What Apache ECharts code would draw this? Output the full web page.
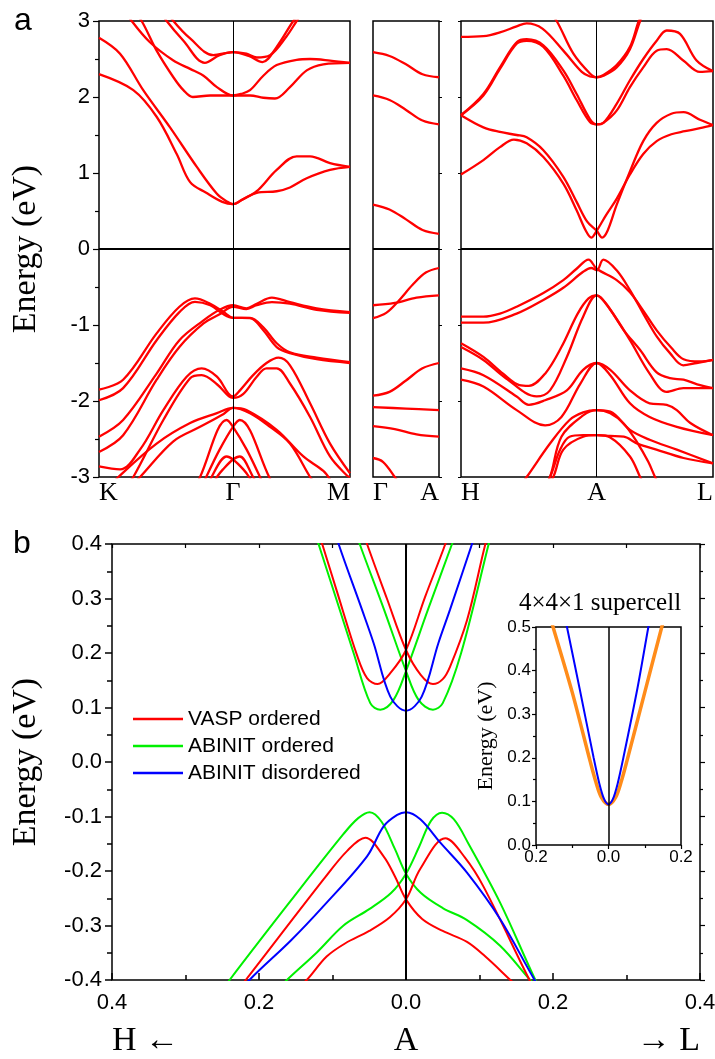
<!DOCTYPE html>
<html>
<head>
<meta charset="utf-8">
<script src="https://cdn.jsdelivr.net/npm/echarts@6/dist/echarts.min.js"></script>
<style>
html,body{margin:0;padding:0;background:#fff;}
#chart{width:715px;height:1059px;}
</style>
</head>
<body>
<div id="chart"></div>
<script>
// ---------- Panel a : K-Γ-M (k: K=0, Γ=1, M=1.873) ----------
const kgmTicks = [0, 1, 1.873];
const kgmNames = ['K', 'Γ', 'M'];
const kgm_c1a = [[0,2.30],[0.256,2.09],[0.43,1.74],[0.58,1.25],[0.68,0.88],[0.80,0.74],[0.92,0.62],[1,0.59],[1.08,0.66],[1.177,0.74],[1.326,0.76],[1.425,0.81],[1.55,0.93],[1.724,1.04],[1.873,1.08]];
const kgm_c1b = [[0,2.78],[0.157,2.57],[0.33,2.09],[0.53,1.60],[0.73,1.08],[0.878,0.73],[0.95,0.63],[1,0.59],[1.06,0.64],[1.177,0.76],[1.326,1.04],[1.475,1.22],[1.575,1.22],[1.724,1.13],[1.873,1.08]];
const kgm_c2a = [[0.23,3.2],[0.318,3.0],[0.43,2.61],[0.555,2.26],[0.63,2.09],[0.70,2.00],[0.83,2.02],[1,2.02],[1.127,2.02],[1.226,1.99],[1.313,1.98],[1.425,2.13],[1.55,2.35],[1.674,2.43],[1.873,2.45]];
const kgm_c2b = [[0.17,3.2],[0.244,3.0],[0.38,2.72],[0.555,2.48],[0.68,2.37],[0.78,2.28],[0.88,2.13],[1,2.02],[1.06,2.04],[1.127,2.09],[1.226,2.28],[1.326,2.42],[1.475,2.49],[1.575,2.50],[1.724,2.48],[1.873,2.45]];
const kgm_c3a = [[0.45,3.15],[0.505,3.0],[0.63,2.74],[0.79,2.45],[0.90,2.55],[1,2.59],[1.117,2.54],[1.22,2.46],[1.326,2.66],[1.45,3.0],[1.52,3.15]];
const kgm_c3b = [[0.50,3.15],[0.555,3.0],[0.68,2.77],[0.853,2.55],[1,2.59],[1.1,2.57],[1.177,2.52],[1.276,2.55],[1.40,2.8],[1.475,3.0],[1.53,3.15]];
const kgm_v1 = [[0,-1.85],[0.18,-1.72],[0.43,-1.11],[0.60,-0.76],[0.716,-0.65],[0.83,-0.72],[0.93,-0.83],[1,-0.905],[1.127,-0.91],[1.226,-1.07],[1.326,-1.29],[1.425,-1.37],[1.624,-1.45],[1.873,-1.50]];
const kgm_v2 = [[0,-1.99],[0.18,-1.83],[0.43,-1.20],[0.60,-0.83],[0.716,-0.695],[0.83,-0.74],[0.93,-0.86],[1,-0.905],[1.127,-0.905],[1.226,-1.03],[1.326,-1.24],[1.425,-1.36],[1.624,-1.43],[1.873,-1.49]];
const kgm_v3 = [[0,-2.47],[0.18,-2.25],[0.43,-1.64],[0.60,-1.20],[0.78,-0.94],[0.90,-0.80],[1,-0.74],[1.1,-0.78],[1.177,-0.72],[1.29,-0.64],[1.425,-0.70],[1.624,-0.78],[1.873,-0.83]];
const kgm_v4 = [[0,-2.67],[0.18,-2.45],[0.43,-1.72],[0.60,-1.29],[0.78,-0.98],[0.90,-0.86],[1,-0.76],[1.1,-0.79],[1.177,-0.74],[1.29,-0.70],[1.425,-0.72],[1.624,-0.80],[1.873,-0.84]];
const kgm_v5 = [[0,-2.86],[0.157,-2.90],[0.306,-2.64],[0.48,-2.12],[0.654,-1.68],[0.766,-1.57],[0.88,-1.68],[0.965,-1.90],[1,-1.94],[1.052,-1.86],[1.15,-1.66],[1.25,-1.50],[1.34,-1.43],[1.425,-1.53],[1.575,-2.03],[1.724,-2.56],[1.873,-2.95]];
const kgm_v6 = [[0.20,-3.1],[0.256,-3.0],[0.48,-2.25],[0.68,-1.70],[0.766,-1.66],[0.88,-1.78],[0.97,-1.94],[1,-1.96],[1.075,-1.91],[1.177,-1.68],[1.25,-1.57],[1.326,-1.57],[1.425,-1.77],[1.575,-2.21],[1.724,-2.73],[1.85,-2.98],[1.873,-3.0]];
const kgm_v7 = [[0.10,-3.1],[0.144,-3.0],[0.43,-2.56],[0.68,-2.29],[0.88,-2.16],[1,-2.09],[1.127,-2.16],[1.276,-2.34],[1.425,-2.56],[1.575,-3.0],[1.62,-3.1]];
const kgm_v8 = [[0.25,-3.1],[0.306,-3.0],[0.555,-2.53],[0.754,-2.34],[0.93,-2.17],[1,-2.09],[1.1,-2.12],[1.326,-2.38],[1.525,-2.73],[1.674,-2.92],[1.73,-3.05]];
const kgm_v9 = [[0.70,-3.2],[0.754,-3.0],[0.953,-2.25],[1,-2.34],[1.102,-2.64],[1.201,-3.0],[1.25,-3.2]];
const kgm_v10 = [[0.75,-3.2],[0.80,-3.0],[0.90,-2.64],[1,-2.34],[1.05,-2.25],[1.27,-3.0],[1.32,-3.2]];
const kgm_v11 = [[0.80,-3.2],[0.84,-3.0],[0.953,-2.73],[1,-2.77],[1.077,-2.90],[1.12,-3.0],[1.15,-3.1]];
const kgm_v12 = [[0.85,-3.1],[0.88,-3.0],[0.925,-2.9],[1,-2.77],[1.05,-2.73],[1.15,-3.0],[1.18,-3.1]];

// ---------- Panel a : Γ-A (k: Γ=0, A=1) ----------
const gaTicks = [0, 1];
const gaNames = ['Γ', 'A'];
const ga_c1 = [[0,2.59],[0.25,2.54],[0.5,2.43],[0.75,2.30],[1,2.26]];
const ga_c2 = [[0,2.02],[0.25,1.96],[0.5,1.83],[0.75,1.69],[1,1.64]];
const ga_c3 = [[0,0.585],[0.25,0.52],[0.5,0.39],[0.75,0.25],[1,0.20]];
const ga_v1 = [[0,-0.91],[0.2,-0.84],[0.38,-0.69],[0.6,-0.47],[0.8,-0.31],[1,-0.25]];
const ga_v2 = [[0,-0.74],[0.33,-0.71],[0.66,-0.64],[1,-0.61]];
const ga_v3 = [[0,-1.93],[0.25,-1.88],[0.5,-1.73],[0.75,-1.57],[1,-1.50]];
const ga_v4 = [[0,-2.08],[0.5,-2.10],[1,-2.12]];
const ga_v5 = [[0,-2.33],[0.33,-2.37],[0.66,-2.44],[1,-2.47]];
const ga_v6 = [[0,-2.75],[0.15,-2.80],[0.33,-3.0],[0.4,-3.1]];

// ---------- Panel a : H-A-L (k: H=0, A=1, L=1.857) ----------
const halTicks = [0, 1, 1.857];
const halNames = ['H', 'A', 'L'];
const hal_c1 = [[0,2.79],[0.165,2.80],[0.287,2.85],[0.41,2.93],[0.484,2.97],[0.60,2.90],[0.754,2.61],[0.89,2.33],[0.95,2.27],[1,2.26],[1.05,2.28],[1.147,2.39],[1.245,2.63],[1.32,3.0],[1.36,3.15]];
const hal_c2 = [[0.62,3.2],[0.705,3.0],[0.828,2.57],[0.95,2.31],[1,2.26],[1.05,2.29],[1.147,2.42],[1.245,2.66],[1.31,3.0],[1.35,3.15]];
const hal_c3 = [[0,1.76],[0.165,2.04],[0.287,2.39],[0.41,2.72],[0.484,2.76],[0.607,2.68],[0.754,2.35],[0.852,2.04],[0.95,1.71],[1,1.64],[1.049,1.66],[1.147,1.91],[1.245,2.22],[1.343,2.50],[1.442,2.74],[1.516,2.875],[1.614,2.83],[1.736,2.48],[1.857,2.34]];
const hal_c4 = [[0,1.76],[0.165,2.02],[0.287,2.37],[0.41,2.70],[0.484,2.74],[0.607,2.66],[0.754,2.28],[0.852,1.96],[0.95,1.67],[1,1.64],[1.049,1.66],[1.147,1.82],[1.245,2.13],[1.343,2.39],[1.442,2.61],[1.516,2.63],[1.638,2.48],[1.761,2.33],[1.857,2.34]];
const hal_c5 = [[0,1.76],[0.165,1.60],[0.287,1.54],[0.41,1.50],[0.484,1.47],[0.607,1.30],[0.754,0.95],[0.852,0.62],[0.93,0.36],[1,0.24],[1.04,0.15],[1.08,0.24],[1.147,0.58],[1.245,1.02],[1.343,1.42],[1.442,1.66],[1.55,1.78],[1.64,1.80],[1.761,1.70],[1.857,1.63]];
const hal_c6 = [[0,0.98],[0.165,1.17],[0.287,1.34],[0.39,1.44],[0.484,1.39],[0.607,1.21],[0.754,0.86],[0.852,0.51],[0.92,0.24],[0.96,0.15],[1,0.24],[1.07,0.45],[1.147,0.66],[1.245,0.98],[1.343,1.25],[1.442,1.42],[1.55,1.51],[1.65,1.55],[1.761,1.59],[1.857,1.63]];
const hal_v1 = [[0,-0.89],[0.165,-0.89],[0.287,-0.85],[0.41,-0.76],[0.607,-0.58],[0.754,-0.41],[0.852,-0.26],[0.94,-0.14],[1,-0.26],[1.147,-0.41],[1.245,-0.57],[1.343,-0.81],[1.442,-1.07],[1.55,-1.30],[1.64,-1.45],[1.761,-1.48],[1.857,-1.46]];
const hal_v2 = [[0,-0.97],[0.165,-0.97],[0.41,-0.85],[0.607,-0.67],[0.754,-0.51],[0.9,-0.30],[0.96,-0.25],[1,-0.28],[1.049,-0.14],[1.147,-0.28],[1.245,-0.54],[1.343,-0.85],[1.442,-1.15],[1.54,-1.37],[1.638,-1.53],[1.736,-1.50],[1.857,-1.46]];
const hal_v3 = [[0,-1.24],[0.165,-1.42],[0.31,-1.64],[0.43,-1.79],[0.5,-1.80],[0.62,-1.64],[0.74,-1.29],[0.86,-0.85],[0.94,-0.65],[1,-0.61],[1.07,-0.72],[1.2,-1.07],[1.32,-1.33],[1.44,-1.62],[1.54,-1.70],[1.64,-1.72],[1.74,-1.78],[1.857,-1.83]];
const hal_v4 = [[0,-1.29],[0.165,-1.46],[0.33,-1.70],[0.558,-1.94],[0.656,-1.86],[0.78,-1.42],[0.9,-0.89],[1,-0.61],[1.1,-0.80],[1.245,-1.20],[1.39,-1.64],[1.516,-1.88],[1.638,-1.83],[1.761,-1.83],[1.857,-1.83]];
const hal_v5 = [[0,-1.57],[0.165,-1.66],[0.41,-1.94],[0.5,-2.05],[0.62,-1.99],[0.78,-1.86],[0.9,-1.59],[1,-1.50],[1.1,-1.59],[1.245,-1.86],[1.39,-2.03],[1.516,-2.05],[1.59,-2.12],[1.69,-2.29],[1.857,-2.45]];
const hal_v6 = [[0,-1.72],[0.165,-1.81],[0.41,-2.12],[0.62,-2.32],[0.74,-2.21],[0.88,-1.77],[1,-1.50],[1.1,-1.66],[1.245,-2.03],[1.39,-2.21],[1.59,-2.34],[1.857,-2.45]];
const hal_v7 = [[0.42,-3.15],[0.484,-3.0],[0.656,-2.56],[0.8,-2.25],[0.9,-2.15],[1,-2.12],[1.1,-2.14],[1.245,-2.38],[1.39,-2.51],[1.59,-2.64],[1.857,-2.82]];
const hal_v8 = [[0.6,-3.15],[0.656,-3.0],[0.74,-2.47],[0.9,-2.19],[1,-2.12],[1.1,-2.16],[1.2,-2.30],[1.3,-2.55],[1.38,-2.8],[1.43,-3.0],[1.46,-3.1]];
const hal_v9 = [[0.6,-3.15],[0.656,-3.0],[0.73,-2.64],[0.8,-2.47],[0.9,-2.45],[1,-2.45],[1.1,-2.46],[1.2,-2.47],[1.3,-2.56],[1.44,-2.64],[1.64,-2.75],[1.857,-2.82]];
const hal_v10 = [[0.62,-3.15],[0.68,-3.0],[0.754,-2.64],[0.9,-2.47],[1,-2.45],[1.1,-2.48],[1.245,-2.73],[1.32,-3.0],[1.36,-3.15]];

// ---------- Panel b : around A (negative k = towards H) ----------
const dirTicks = [-0.4, 0, 0.4];
const dirNames = ['H ←', 'A', '→ L'];
const vasp_c1 = [[-0.124,0.44],[-0.114,0.40],[-0.094,0.313],[-0.0667,0.196],[-0.053,0.154],[-0.0386,0.143],[-0.0214,0.163],[0,0.2055],[0.026,0.303],[0.0535,0.40],[0.06,0.43]];
const vasp_c2 = [[-0.06,0.43],[-0.053,0.40],[-0.026,0.30],[0,0.2055],[0.02,0.16],[0.0367,0.143],[0.05,0.152],[0.06,0.175],[0.083,0.26],[0.108,0.40],[0.117,0.44]];
const vasp_v1 = [[-0.23,-0.42],[-0.218,-0.40],[-0.112,-0.215],[-0.08,-0.163],[-0.0554,-0.139],[-0.0305,-0.173],[-0.015,-0.21],[0,-0.252],[0.022,-0.288],[0.05,-0.31],[0.083,-0.33],[0.108,-0.357],[0.142,-0.40],[0.15,-0.41]];
const vasp_v2 = [[-0.145,-0.41],[-0.135,-0.40],[-0.108,-0.357],[-0.083,-0.333],[-0.05,-0.31],[-0.022,-0.285],[0,-0.252],[0.0195,-0.196],[0.0535,-0.14],[0.08,-0.175],[0.106,-0.23],[0.168,-0.40],[0.175,-0.415]];
const abo_c1 = [[-0.13,0.44],[-0.119,0.40],[-0.0713,0.20],[-0.0486,0.108],[-0.035,0.096],[-0.0169,0.114],[0,0.167],[0.03,0.28],[0.0626,0.40],[0.07,0.43]];
const abo_c2 = [[-0.07,0.43],[-0.063,0.40],[-0.03,0.28],[0,0.167],[0.017,0.114],[0.0367,0.096],[0.05,0.108],[0.075,0.20],[0.1125,0.40],[0.12,0.44]];
const abo_v1 = [[-0.25,-0.42],[-0.24,-0.40],[-0.157,-0.255],[-0.085,-0.132],[-0.065,-0.103],[-0.0495,-0.092],[-0.033,-0.11],[-0.015,-0.16],[0,-0.205],[0.02,-0.24],[0.05,-0.268],[0.083,-0.29],[0.128,-0.337],[0.169,-0.40],[0.18,-0.415]];
const abo_v2 = [[-0.172,-0.415],[-0.162,-0.40],[-0.121,-0.349],[-0.085,-0.30],[-0.05,-0.27],[-0.02,-0.24],[0,-0.205],[0.018,-0.155],[0.034,-0.108],[0.049,-0.093],[0.065,-0.105],[0.085,-0.15],[0.128,-0.258],[0.176,-0.40],[0.185,-0.42]];
const abd_c = [[-0.10,0.44],[-0.0917,0.40],[-0.06,0.28],[-0.044,0.218],[-0.0214,0.12],[0,0.094],[0.0214,0.12],[0.044,0.218],[0.06,0.28],[0.0898,0.40],[0.10,0.44]];
const abd_v = [[-0.23,-0.43],[-0.213,-0.40],[-0.157,-0.328],[-0.112,-0.264],[-0.053,-0.173],[-0.0305,-0.118],[-0.012,-0.097],[0,-0.092],[0.0195,-0.105],[0.0467,-0.148],[0.083,-0.203],[0.128,-0.288],[0.175,-0.40],[0.19,-0.43]];

// ---------- Inset : 4x4x1 supercell ----------
const inset_orange = [[-0.16,0.52],[-0.153,0.50],[-0.10,0.35],[-0.05,0.19],[-0.035,0.145],[-0.02,0.11],[0,0.093],[0.02,0.11],[0.035,0.145],[0.05,0.19],[0.10,0.35],[0.147,0.50],[0.155,0.52]];
const inset_blue = [[-0.12,0.52],[-0.1146,0.50],[-0.08,0.36],[-0.041,0.20],[-0.025,0.14],[-0.012,0.105],[0,0.093],[0.012,0.105],[0.025,0.14],[0.041,0.20],[0.08,0.36],[0.110,0.50],[0.115,0.52]];

const legendNames = ['VASP ordered', 'ABINIT ordered', 'ABINIT disordered'];

// ---------- build ----------
const SANS = 'Liberation Sans, Arial, sans-serif';
const SERIF = 'Liberation Serif, Times New Roman, serif';
const RED = '#ff0000', GREEN = '#00f000', BLUE = '#0000ff', ORANGE = '#ff8c1a';
const NOLINE = {show: false, onZero: false};

function nameFmt(ticks, names) {
  return function (v) {
    for (let i = 0; i < ticks.length; i++) if (Math.abs(ticks[i] - v) < 1e-6) return names[i];
    return '';
  };
}
const gridBase = {show: true, borderColor: '#000', borderWidth: 1.5, backgroundColor: 'transparent', containLabel: false, outerBoundsMode: 'none'};
const grids = [
  Object.assign({left: 99, top: 21, width: 251, height: 456}, gridBase),
  Object.assign({left: 373, top: 21, width: 66, height: 456}, gridBase),
  Object.assign({left: 461, top: 21, width: 252, height: 456}, gridBase),
  Object.assign({left: 112, top: 544, width: 588, height: 436}, gridBase),
  Object.assign({left: 536, top: 627, width: 145, height: 218}, gridBase, {backgroundColor: '#fff'})
];

function kAxis(grid, max, ticks, names) {
  return {
    type: 'value', gridIndex: grid, min: 0, max: max, position: 'bottom',
    axisLine: NOLINE, axisTick: {show: false}, splitLine: {show: false},
    axisLabel: {show: true, customValues: ticks, formatter: nameFmt(ticks, names),
      alignMinLabel: 'left', alignMaxLabel: 'right',
      fontFamily: SERIF, fontSize: 26, color: '#000', margin: 3}
  };
}
const absFmt = v => Math.abs(v).toFixed(1);
const xAxes = [
  kAxis(0, 1.873, kgmTicks, kgmNames),
  kAxis(1, 1, gaTicks, gaNames),
  kAxis(2, 1.857, halTicks, halNames),
  {type: 'value', gridIndex: 3, min: -0.4, max: 0.4, interval: 0.2, position: 'bottom',
    axisLine: NOLINE, splitLine: {show: false},
    axisTick: {show: true, inside: true, length: 7, lineStyle: {color: '#000', width: 1.5}},
    minorTick: {show: true, splitNumber: 2, length: 5, lineStyle: {color: '#000', width: 1.5}},
    minorSplitLine: {show: false},
    axisLabel: {formatter: absFmt, fontFamily: SANS, fontSize: 22, color: '#000', margin: 12}},
  {type: 'value', gridIndex: 3, min: -0.4, max: 0.4, position: 'bottom',
    axisLine: NOLINE, axisTick: {show: false}, splitLine: {show: false},
    axisLabel: {customValues: dirTicks, formatter: nameFmt(dirTicks, dirNames),
      alignMinLabel: 'left', alignMaxLabel: 'right',
      fontFamily: SERIF, fontSize: 34, color: '#000', margin: 44}},
  {type: 'value', gridIndex: 3, min: -0.4, max: 0.4, interval: 0.1, position: 'top',
    axisLine: NOLINE, splitLine: {show: false}, axisLabel: {show: false},
    axisTick: {show: true, inside: true, length: 4, lineStyle: {color: '#000', width: 1.2}}},
  {type: 'value', gridIndex: 4, min: -0.2, max: 0.2, interval: 0.2, position: 'bottom',
    axisLine: NOLINE, splitLine: {show: false},
    axisTick: {show: true, inside: false, length: 4, lineStyle: {color: '#000', width: 1.2}},
    minorTick: {show: true, splitNumber: 2, length: 3, lineStyle: {color: '#000', width: 1.2}},
    axisLabel: {formatter: absFmt, fontFamily: SANS, fontSize: 17, color: '#000', margin: 4}}
];
const yAxes = [
  {type: 'value', gridIndex: 0, min: -3, max: 3, interval: 1, position: 'left',
    name: 'Energy (eV)', nameLocation: 'middle', nameGap: 56, nameRotate: 90,
    nameTextStyle: {fontFamily: SERIF, fontSize: 34, color: '#000'},
    axisLine: NOLINE, splitLine: {show: false},
    axisTick: {show: true, inside: false, length: 6, lineStyle: {color: '#000', width: 1.2}},
    minorTick: {show: true, splitNumber: 2, length: 4, lineStyle: {color: '#000', width: 1.2}},
    axisLabel: {fontFamily: SANS, fontSize: 22, color: '#000', margin: 9}},
  {type: 'value', gridIndex: 1, min: -3, max: 3, interval: 1, position: 'right',
    axisLine: NOLINE, splitLine: {show: false}, axisLabel: {show: false},
    axisTick: {show: true, inside: false, length: 3, lineStyle: {color: '#000'}}},
  {type: 'value', gridIndex: 2, min: -3, max: 3, interval: 1, position: 'left',
    axisLine: NOLINE, splitLine: {show: false}, axisLabel: {show: false},
    axisTick: {show: true, inside: false, length: 3, lineStyle: {color: '#000'}}},
  {type: 'value', gridIndex: 3, min: -0.4, max: 0.4, interval: 0.1, position: 'left',
    name: 'Energy (eV)', nameLocation: 'middle', nameGap: 69, nameRotate: 90,
    nameTextStyle: {fontFamily: SERIF, fontSize: 34, color: '#000'},
    axisLine: NOLINE, splitLine: {show: false},
    axisTick: {show: true, inside: false, length: 7, lineStyle: {color: '#000', width: 1.5}},
    minorTick: {show: true, splitNumber: 2, length: 5, lineStyle: {color: '#000', width: 1.5}},
    axisLabel: {formatter: v => v.toFixed(1), fontFamily: SANS, fontSize: 22, color: '#000', margin: 10}},
  {type: 'value', gridIndex: 3, min: -0.4, max: 0.4, interval: 0.1, position: 'right',
    axisLine: NOLINE, splitLine: {show: false}, axisLabel: {show: false},
    axisTick: {show: true, inside: false, length: 5, lineStyle: {color: '#000', width: 1.2}},
    minorTick: {show: true, splitNumber: 2, length: 3, lineStyle: {color: '#000', width: 1.2}}},
  {type: 'value', gridIndex: 4, min: 0, max: 0.5, interval: 0.1, position: 'left',
    name: 'Energy (eV)', nameLocation: 'middle', nameGap: 39, nameRotate: 90,
    nameTextStyle: {fontFamily: SERIF, fontSize: 22, color: '#000'},
    axisLine: NOLINE, splitLine: {show: false},
    axisTick: {show: true, inside: false, length: 4, lineStyle: {color: '#000', width: 1.2}},
    minorTick: {show: true, splitNumber: 2, length: 3, lineStyle: {color: '#000', width: 1.2}},
    axisLabel: {formatter: v => v.toFixed(1), fontFamily: SANS, fontSize: 17, color: '#000', margin: 5}}
];

const series = [];
function addLine(data, xi, yi, color, width, name, smooth) {
  series.push({type: 'line', name: name || ('band' + series.length), xAxisIndex: xi, yAxisIndex: yi,
    data: data, symbol: 'none', showSymbol: false, smooth: smooth, clip: true, silent: true,
    animation: false, lineStyle: {color: color, width: width}, itemStyle: {color: color}, z: 3});
}
function refLine(xi, yi, axisKey, value, width) {
  const d = {}; d[axisKey] = value;
  series.push({type: 'line', name: 'ref' + series.length, xAxisIndex: xi, yAxisIndex: yi, data: [],
    silent: true, animation: false,
    markLine: {silent: true, symbol: 'none', label: {show: false}, animation: false,
      lineStyle: {color: '#000', width: width, type: 'solid'}, data: [d]}});
}
[kgm_c1a,kgm_c1b,kgm_c2a,kgm_c2b,kgm_c3a,kgm_c3b,kgm_v1,kgm_v2,kgm_v3,kgm_v4,kgm_v5,kgm_v6,kgm_v7,kgm_v8,kgm_v9,kgm_v10,kgm_v11,kgm_v12]
  .forEach(b => addLine(b, 0, 0, RED, 2.3, null, 0.35));
[ga_c1,ga_c2,ga_c3,ga_v1,ga_v2,ga_v3,ga_v4,ga_v5,ga_v6]
  .forEach(b => addLine(b, 1, 1, RED, 2.3, null, 0.35));
[hal_c1,hal_c2,hal_c3,hal_c4,hal_c5,hal_c6,hal_v1,hal_v2,hal_v3,hal_v4,hal_v5,hal_v6,hal_v7,hal_v8,hal_v9,hal_v10]
  .forEach(b => addLine(b, 2, 2, RED, 2.3, null, 0.35));
refLine(0, 0, 'yAxis', 0, 2); refLine(0, 0, 'xAxis', 1, 1);
refLine(1, 1, 'yAxis', 0, 2);
refLine(2, 2, 'yAxis', 0, 2); refLine(2, 2, 'xAxis', 1, 1);

[abo_c1, abo_c2, abo_v1, abo_v2].forEach(b => addLine(b, 3, 3, GREEN, 2, legendNames[1], 0.35));
[vasp_c1, vasp_c2, vasp_v1, vasp_v2].forEach(b => addLine(b, 3, 3, RED, 2, legendNames[0], 0.35));
[abd_c, abd_v].forEach(b => addLine(b, 3, 3, BLUE, 2, legendNames[2], 0.35));
refLine(3, 3, 'xAxis', 0, 2);

addLine(inset_orange, 6, 5, ORANGE, 3.5, 'inset orange', 0.3);
addLine(inset_blue, 6, 5, BLUE, 2, 'inset blue', 0.3);
refLine(6, 5, 'xAxis', 0, 1.5);

const chart = echarts.init(document.getElementById('chart'), null, {renderer: 'canvas'});
chart.setOption({
  animation: false,
  backgroundColor: '#fff',
  textStyle: {fontFamily: SANS},
  grid: grids,
  xAxis: xAxes,
  yAxis: yAxes,
  legend: {
    data: legendNames, orient: 'vertical', left: 133, top: 708, padding: 0,
    icon: 'rect', itemWidth: 50, itemHeight: 2.5, itemGap: 5,
    textStyle: {fontFamily: SANS, fontSize: 21, color: '#000', lineHeight: 22},
    selectedMode: false
  },
  graphic: [
    {type: 'text', left: 14, top: 5, style: {text: 'a', font: '32px ' + SANS, fill: '#000'}},
    {type: 'text', left: 13, top: 528, style: {text: 'b', font: '32px ' + SANS, fill: '#000'}},
    {type: 'text', x: 600, y: 603, style: {text: '4×4×1 supercell', font: '25px ' + SERIF, fill: '#000', textAlign: 'center', textVerticalAlign: 'middle'}}
  ],
  series: series
});
</script>
</body>
</html>
